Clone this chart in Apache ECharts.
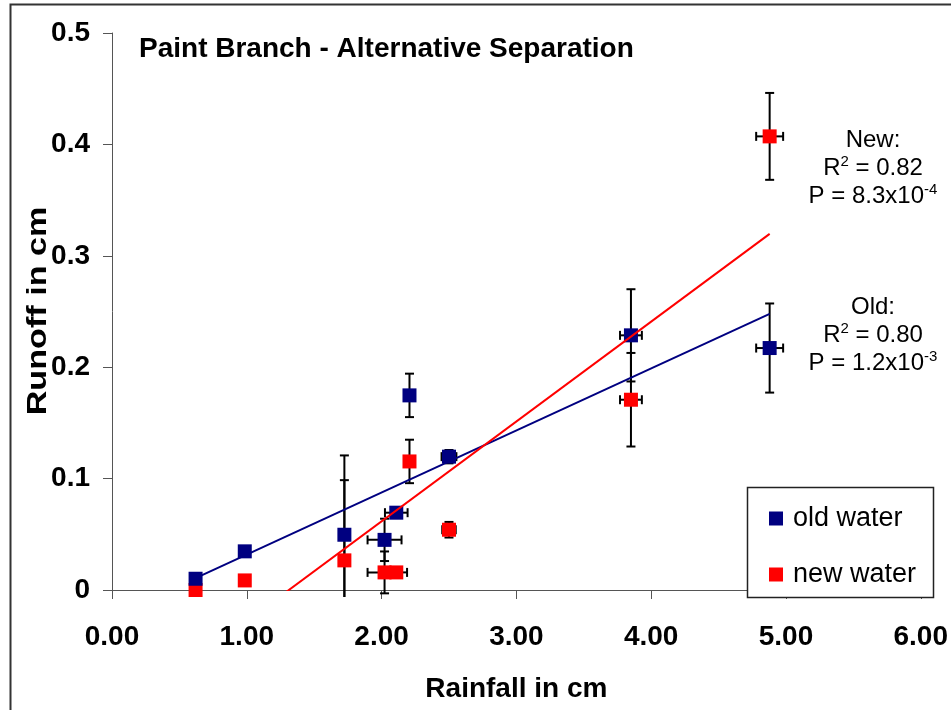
<!DOCTYPE html>
<html>
<head>
<meta charset="utf-8">
<script src="https://cdn.jsdelivr.net/npm/echarts@6/dist/echarts.min.js"></script>
<style>
  html, body { margin: 0; padding: 0; background: #fff; }
  #chart { width: 951px; height: 710px; }
</style>
</head>
<body>
<div id="chart"></div>
<script>
// Rainfall (cm) for each storm event, shared by both components
var rainfall = [0.62, 0.985, 1.724, 2.022, 2.109, 2.207, 2.50, 3.85, 4.879];

// Runoff (cm) separated into old (pre-event) and new (event) water
var oldWater = [0.0101, 0.0347, 0.0496, 0.045, 0.0694, 0.1747, 0.1197, 0.2286, 0.2172];
var newWater = [0.0, 0.0086, 0.0266, 0.0158, 0.0158, 0.1154, 0.0541, 0.1708, 0.4072];

// Error bar half-widths: runoff (vertical) and rainfall (horizontal)
var oldRunoffErr = [0, 0, 0.0712, 0.019, 0.003, 0.0195, 0.006, 0.0414, 0.040];
var newRunoffErr = [0, 0, 0.072, 0.0188, 0.003, 0.0195, 0.007, 0.042, 0.039];
var oldRainErr   = [0, 0, 0, 0.126, 0.084, 0, 0.055, 0.081, 0.10];
var newRainErr   = [0, 0, 0, 0.126, 0.08, 0, 0.05, 0.081, 0.10];

// Axis ticks
var xTicks = [0, 1, 2, 3, 4, 5, 6];
var yTicks = [0, 0.1, 0.2, 0.3, 0.4, 0.5];

// Regression statistics shown beside the fits
var newStats = { r2: '0.82', pMant: '8.3', pExp: '-4' };
var oldStats = { r2: '0.80', pMant: '1.2', pExp: '-3' };

var FONT = 'Liberation Sans, Arial, sans-serif';
var OLD_COLOR = '#000080';
var NEW_COLOR = '#FF0000';

// Ordinary least-squares line through the points, spanning the observed rainfall range
function fitLine(xs, ys) {
  var n = xs.length, mx = 0, my = 0;
  for (var i = 0; i < n; i++) { mx += xs[i]; my += ys[i]; }
  mx /= n; my /= n;
  var sxy = 0, sxx = 0;
  for (var j = 0; j < n; j++) {
    sxy += (xs[j] - mx) * (ys[j] - my);
    sxx += (xs[j] - mx) * (xs[j] - mx);
  }
  var b = sxy / sxx, a = my - b * mx;
  var x0 = Math.min.apply(null, xs), x1 = Math.max.apply(null, xs);
  return [[x0, a + b * x0], [x1, a + b * x1]];
}

function pairs(xs, ys) {
  return xs.map(function (x, i) { return [x, ys[i]]; });
}

function errorData(xs, ys, yErr, xErr) {
  return xs.map(function (x, i) { return [x, ys[i], yErr[i], xErr[i]]; });
}

// Black error bars with caps; lower ends stop just under the zero line
function renderErrorBars(params, api) {
  var x = api.value(0), y = api.value(1), ey = api.value(2), ex = api.value(3);
  var children = [];
  var style = { stroke: '#000', lineWidth: 2 };
  var cap = 4.5;
  var floorPx = api.coord([0, 0])[1] + 7;
  if (ey > 0) {
    var top = api.coord([x, y + ey]);
    var bot = api.coord([x, y - ey]);
    var clipped = bot[1] > floorPx;
    var botY = clipped ? floorPx : bot[1];
    children.push({ type: 'line', shape: { x1: top[0], y1: top[1], x2: top[0], y2: botY }, style: style });
    children.push({ type: 'line', shape: { x1: top[0] - cap, y1: top[1], x2: top[0] + cap, y2: top[1] }, style: style });
    if (!clipped) {
      children.push({ type: 'line', shape: { x1: bot[0] - cap, y1: bot[1], x2: bot[0] + cap, y2: bot[1] }, style: style });
    }
  }
  if (ex > 0) {
    var l = api.coord([x - ex, y]);
    var r = api.coord([x + ex, y]);
    children.push({ type: 'line', shape: { x1: l[0], y1: l[1], x2: r[0], y2: r[1] }, style: style });
    children.push({ type: 'line', shape: { x1: l[0], y1: l[1] - cap, x2: l[0], y2: l[1] + cap }, style: style });
    children.push({ type: 'line', shape: { x1: r[0], y1: r[1] - cap, x2: r[0], y2: r[1] + cap }, style: style });
  }
  return { type: 'group', children: children };
}

function statLines(title, stats, x, y0) {
  var rich = {
    n: { fontFamily: FONT, fontSize: 24, fill: '#000' },
    s: { fontFamily: FONT, fontSize: 15, fill: '#000', padding: [0, 0, 12, 0] }
  };
  var rows = [
    '{n|' + title + '}',
    '{n|R}{s|2}{n| = ' + stats.r2 + '}',
    '{n|P = ' + stats.pMant + 'x10}{s|' + stats.pExp + '}'
  ];
  return rows.map(function (t, i) {
    return {
      type: 'text', x: x, y: y0 + i * 28, z: 10,
      style: { text: t, rich: rich, align: 'center', verticalAlign: 'middle', fill: '#000' }
    };
  });
}

var chart = echarts.init(document.getElementById('chart'), null, { renderer: 'canvas' });

var option = {
  backgroundColor: '#fff',
  animation: false,
  grid: { left: 112, right: 29, top: 33, bottom: 120, containLabel: false },
  xAxis: {
    type: 'value', min: xTicks[0], max: xTicks[xTicks.length - 1], interval: xTicks[1] - xTicks[0],
    name: 'Rainfall in cm', nameLocation: 'middle', nameGap: 85,
    nameTextStyle: { fontFamily: FONT, fontSize: 28, fontWeight: 'bold', color: '#000' },
    axisLine: { show: true, onZero: false, lineStyle: { color: '#555', width: 1 } },
    axisTick: { show: true, inside: false, length: 9, lineStyle: { color: '#555' } },
    axisLabel: { margin: 33, fontFamily: FONT, fontSize: 28, fontWeight: 'bold', color: '#000',
      formatter: function (v) { return v.toFixed(2); } },
    splitLine: { show: false }
  },
  yAxis: {
    type: 'value', min: yTicks[0], max: yTicks[yTicks.length - 1], interval: yTicks[1] - yTicks[0],
    axisLine: { show: true, onZero: false, lineStyle: { color: '#555', width: 1 } },
    axisTick: { show: true, inside: false, length: 9, lineStyle: { color: '#555' } },
    axisLabel: { margin: 22, fontFamily: FONT, fontSize: 28, fontWeight: 'bold', color: '#000',
      formatter: function (v) { return v === 0 ? '0' : String(Math.round(v * 10) / 10); } },
    splitLine: { show: false }
  },
  legend: {
    data: ['old water', 'new water'],
    orient: 'vertical', left: 747, top: 487,
    padding: [18, 14, 13, 22], itemGap: 29,
    itemWidth: 14, itemHeight: 14, icon: 'rect',
    textStyle: { fontFamily: FONT, fontSize: 27, color: '#000', padding: [0, 0, 0, 5] },
    z: 20
  },
  series: [
    {
      name: 'old error', type: 'custom', renderItem: renderErrorBars, z: 1, clip: false,
      data: errorData(rainfall, oldWater, oldRunoffErr, oldRainErr), silent: true
    },
    {
      name: 'new error', type: 'custom', renderItem: renderErrorBars, z: 1, clip: false,
      data: errorData(rainfall, newWater, newRunoffErr, newRainErr), silent: true
    },
    {
      name: 'new water', type: 'scatter', symbol: 'rect', symbolSize: 14, z: 2,
      itemStyle: { color: NEW_COLOR, opacity: 1 },
      data: pairs(rainfall, newWater)
    },
    {
      name: 'old water', type: 'scatter', symbol: 'rect', symbolSize: 14, z: 3,
      itemStyle: { color: OLD_COLOR, opacity: 1 },
      data: pairs(rainfall, oldWater)
    },
    {
      name: 'old fit', type: 'line', showSymbol: false, clip: true, z: 4,
      lineStyle: { color: OLD_COLOR, width: 2 },
      data: fitLine(rainfall, oldWater)
    },
    {
      name: 'new fit', type: 'line', showSymbol: false, clip: true, z: 4,
      lineStyle: { color: NEW_COLOR, width: 2 },
      data: fitLine(rainfall, newWater)
    }
  ],
  graphic: [
    {
      type: 'rect', z: 0, silent: true,
      shape: { x: 10.5, y: 4.5, width: 1000, height: 800 },
      style: { fill: 'none', stroke: '#333', lineWidth: 2 }
    },
    // legend frame
    {
      type: 'rect', z: 15, silent: true,
      shape: { x: 747.5, y: 487.5, width: 186, height: 110 },
      style: { fill: '#fff', stroke: '#222', lineWidth: 1.5 }
    },
    {
      type: 'text', x: 139, y: 49, z: 10,
      style: { text: 'Paint Branch - Alternative Separation', fontFamily: FONT, fontSize: 28,
        fontWeight: 'bold', fill: '#000', align: 'left', verticalAlign: 'middle' }
    },
    {
      type: 'text', x: 38, y: 311, rotation: Math.PI / 2, scaleX: 1.22, z: 10,
      style: { text: 'Runoff in cm', fontFamily: FONT, fontSize: 28, fontWeight: 'bold',
        fill: '#000', align: 'center', verticalAlign: 'middle' }
    }
  ].concat(statLines('New:', newStats, 873, 140))
   .concat(statLines('Old:', oldStats, 873, 307))
};

chart.setOption(option);
</script>
</body>
</html>
